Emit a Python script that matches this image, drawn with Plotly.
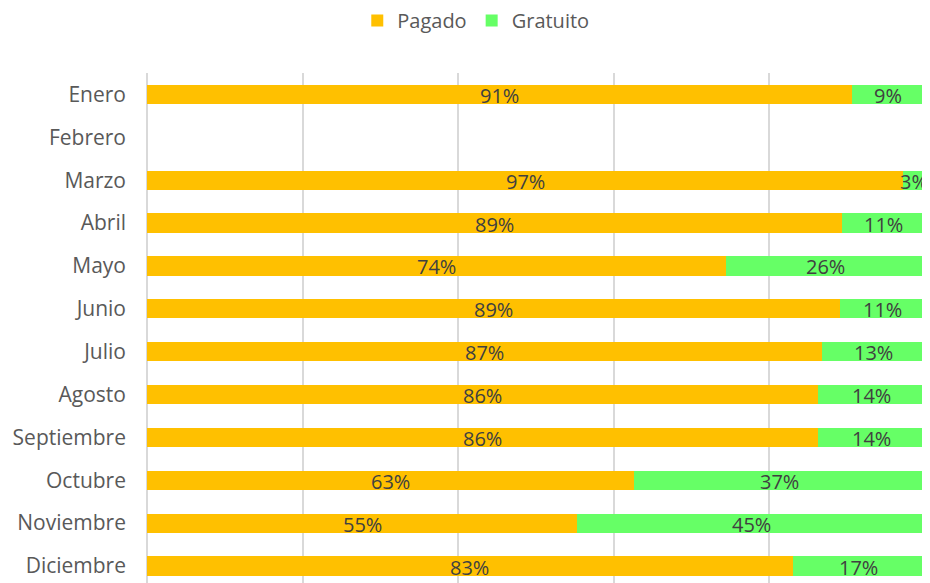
import plotly.graph_objects as go

months = ["Enero", "Febrero", "Marzo", "Abril", "Mayo", "Junio", "Julio",
          "Agosto", "Septiembre", "Octubre", "Noviembre", "Diciembre"]
pagado = [0.906, None, 0.972, 0.893, 0.744, 0.891, 0.867, 0.862, 0.862, 0.626, 0.553, 0.830]
gratuito = [0.094, None, 0.028, 0.107, 0.256, 0.109, 0.133, 0.138, 0.138, 0.374, 0.447, 0.170]

FONT = "Open Sans"
GRID = "#D9D9D9"
fig = go.Figure()
for name, vals, color in [("Pagado", pagado, "#FFC000"), ("Gratuito", gratuito, "#66FF66")]:
    fig.add_trace(go.Bar(
        y=months, x=vals, name=name, orientation="h",
        marker=dict(color=color, line=dict(width=0)),
        width=0.45, hoverinfo="x+name",
    ))

# data labels centred on each segment (derived from the data)
for m, p, g in zip(months, pagado, gratuito):
    if p is None:
        continue
    for xc, v in [(p / 2, p), (p + g / 2, g)]:
        fig.add_annotation(
            x=xc, y=m, text=f"{round(v * 100)}%", showarrow=False,
            xanchor="center", yanchor="middle", yshift=-1,
            font=dict(family=FONT, size=20, color="#404040"),
        )

# edge gridlines (0% and 100%)
for xe in (0, 1):
    fig.add_shape(type="line", xref="x domain", yref="y domain",
                  x0=xe, x1=xe, y0=0, y1=1, layer="below",
                  line=dict(color=GRID, width=2))

# The page body has an 8px margin, so the figure is sized/offset to compensate.
OFF = 8
W, H = 930 - OFF, 583 - OFF
plot_top = 72.5 - OFF
plot_h = H - plot_top
cat_px = 42.9
bottom_val = 11 + (H + OFF - 566) / cat_px

fig.update_layout(
    width=W, height=H,
    barmode="stack",
    margin=dict(l=147 - OFF, r=5, t=plot_top, b=0, autoexpand=False),
    paper_bgcolor="white", plot_bgcolor="white",
    font=dict(family=FONT, size=20, color="#595959"),
    legend=dict(orientation="h", x=(357 - 147) / 777, xanchor="left",
                y=1 + (plot_top - (20 - OFF)) / plot_h, yanchor="middle",
                font=dict(family=FONT, size=20, color="#595959"),
                itemwidth=30, traceorder="normal", bgcolor="rgba(0,0,0,0)"),
    xaxis=dict(range=[0, 1], tickvals=[0, 0.2, 0.4, 0.6, 0.8, 1.0],
               showgrid=True, gridcolor=GRID, gridwidth=2,
               zeroline=False, showticklabels=False, showline=False,
               automargin=False, fixedrange=True),
    yaxis=dict(categoryorder="array", categoryarray=months,
               range=[bottom_val, -0.5], showgrid=False, zeroline=False,
               showline=False, ticks="", ticklabelstandoff=20,
               automargin=False, fixedrange=True,
               tickfont=dict(family=FONT, size=21, color="#595959")),
    showlegend=True,
)
fig.write_html("out.html", config={"displayModeBar": False})
